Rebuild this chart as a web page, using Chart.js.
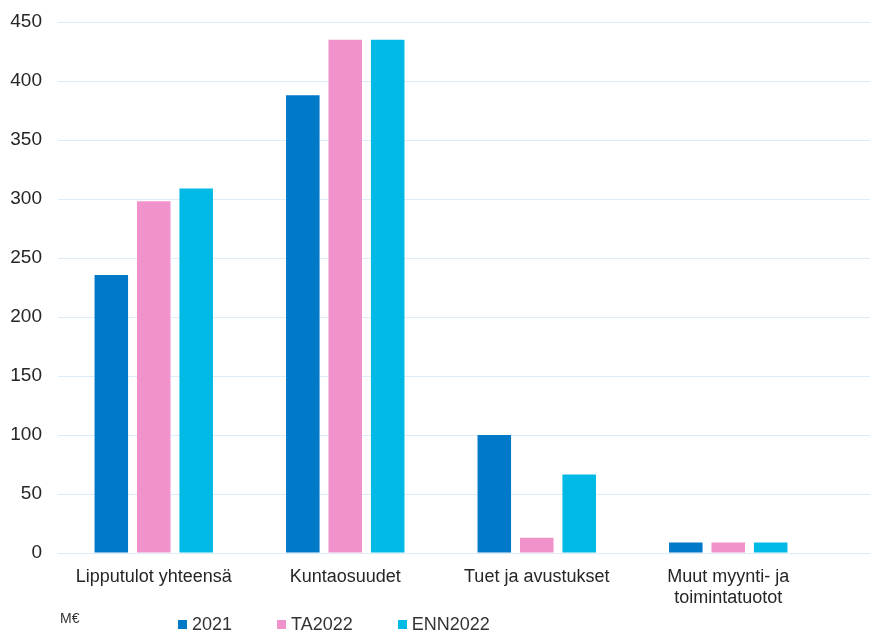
<!DOCTYPE html>
<html>
<head>
<meta charset="utf-8">
<script src="https://cdn.jsdelivr.net/npm/chart.js@4/dist/chart.umd.min.js"></script>
<style>
    body { margin: 0; background: #fff; font-family: "Liberation Sans", Arial, sans-serif; }
    #wrap { position: relative; width: 870px; height: 633px; overflow: hidden; }
    #unit { position: absolute; left: 60px; top: 610px; font-size: 14px; color: #333; }
    #legend { position: absolute; left: 178px; top: 614px; display: flex; font-size: 18px; color: #333; line-height: 21px; }
    .item { display: flex; align-items: center; margin-right: 45px; }
    .box { width: 9px; height: 9px; margin-right: 5px; }
</style>
</head>
<body>
<div id="wrap">
    <canvas id="incomeChart"></canvas>
    <div id="unit">M€</div>
    <div id="legend"></div>
</div>
<script>
const categories = [
    'Lipputulot yhteensä',
    'Kuntaosuudet',
    'Tuet ja avustukset',
    ['Muut myynti- ja', 'toimintatuotot']
];
const seriesNames = ['2021', 'TA2022', 'ENN2022'];
const values2021 = [235.5, 388, 100, 9];
const valuesTA2022 = [298, 435, 13, 9];
const valuesENN2022 = [309, 435, 66.5, 9];
const colors = ['#0079c9', '#f093cc', '#00b9e5'];
const yTicks = [0, 50, 100, 150, 200, 250, 300, 350, 400, 450];

const gridColor = '#dcecf8';

// Excel draws the horizontal gridlines a bit past the last category
const extendGrid = {
    id: 'extendGrid',
    beforeDatasetsDraw(chart) {
        const { ctx, chartArea, scales } = chart;
        ctx.save();
        ctx.strokeStyle = gridColor;
        ctx.lineWidth = 1;
        scales.y.ticks.forEach(t => {
            const y = Math.round(scales.y.getPixelForValue(t.value) - 0.5) + 0.5;
            ctx.beginPath();
            ctx.moveTo(chartArea.right - 1, y);
            ctx.lineTo(chart.width, y);
            ctx.stroke();
        });
        ctx.restore();
    }
};

const allSeries = [values2021, valuesTA2022, valuesENN2022];

const chart = new Chart(document.getElementById('incomeChart'), {
    type: 'bar',
    data: {
        labels: categories,
        datasets: allSeries.map((vals, i) => ({
            label: seriesNames[i],
            data: vals,
            backgroundColor: colors[i],
            categoryPercentage: 0.665,
            barPercentage: 0.79
        }))
    },
    options: {
        responsive: true,
        maintainAspectRatio: false,
        animation: false,
        layout: { padding: { top: 22, right: 46, left: 0, bottom: 0 } },
        plugins: {
            legend: { display: false },
            tooltip: { enabled: false }
        },
        scales: {
            x: {
                grid: { display: false, drawTicks: false },
                border: { display: false },
                ticks: {
                    padding: 13,
                    color: '#262626',
                    font: { family: 'Liberation Sans', size: 18 },
                    maxRotation: 0,
                    autoSkip: false
                },
                afterFit: s => { s.height = 80; }
            },
            y: {
                min: 0,
                max: 450,
                afterBuildTicks: s => { s.ticks = yTicks.map(v => ({ value: v })); },
                grid: { color: gridColor, drawTicks: false },
                border: { display: false },
                ticks: {
                    padding: 16,
                    color: '#262626',
                    font: { family: 'Liberation Sans', size: 19 }
                },
                afterFit: s => {
                    s.width = 58;
                    s.paddingTop = 0;
                    s.paddingBottom = 0;
                }
            }
        }
    },
    plugins: [extendGrid]
});

// legend as html, built from the series
const legendEl = document.getElementById('legend');
seriesNames.forEach((name, i) => {
    const item = document.createElement('div');
    item.className = 'item';
    const box = document.createElement('span');
    box.className = 'box';
    box.style.backgroundColor = colors[i];
    const txt = document.createElement('span');
    txt.textContent = name;
    item.appendChild(box);
    item.appendChild(txt);
    legendEl.appendChild(item);
});
</script>
</body>
</html>
